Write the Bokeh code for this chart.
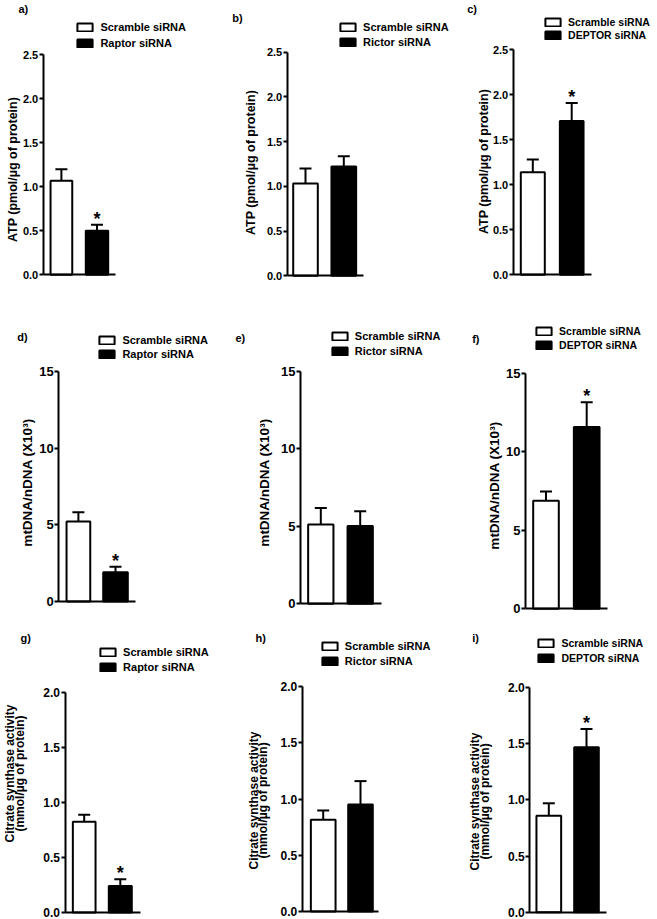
from bokeh.plotting import figure
from bokeh.layouts import column, row
from bokeh.models import (Range1d, FixedTicker, NumeralTickFormatter, Legend, LinearAxis,
                          LegendItem, Whisker, TeeHead, ColumnDataSource)
from bokeh.core.properties import value
from bokeh.embed import file_html
from bokeh.resources import INLINE

FONT = "Liberation Sans"

# ---------------- data ----------------
control = "Scramble siRNA"
treatments = ["Raptor siRNA", "Rictor siRNA", "DEPTOR siRNA"]
panel_letters = ["a)", "b)", "c)", "d)", "e)", "f)", "g)", "h)", "i)"]

# ATP (pmol/ug of protein): [Scramble, treatment]
atp_raptor = [1.07, 0.50]
atp_raptor_sem = [0.13, 0.07]
atp_rictor = [1.03, 1.22]
atp_rictor_sem = [0.17, 0.115]
atp_deptor = [1.14, 1.71]
atp_deptor_sem = [0.14, 0.20]

# mtDNA/nDNA (x10^3)
mt_raptor = [5.22, 1.90]
mt_raptor_sem = [0.60, 0.37]
mt_rictor = [5.11, 5.02]
mt_rictor_sem = [1.07, 0.95]
mt_deptor = [6.88, 11.57]
mt_deptor_sem = [0.59, 1.57]

# Citrate synthase activity (mmol/ug of protein)
cs_raptor = [0.824, 0.242]
cs_raptor_sem = [0.064, 0.061]
cs_rictor = [0.815, 0.951]
cs_rictor_sem = [0.083, 0.208]
cs_deptor = [0.859, 1.467]
cs_deptor_sem = [0.11, 0.163]

# significance of treatment vs scramble (ATP, mtDNA, CS)
raptor_sig = [True, True, True]
rictor_sig = [False, False, False]
deptor_sig = [True, True, True]

atp_ticks = [0.0, 0.5, 1.0, 1.5, 2.0, 2.5]
mt_ticks = [0, 5, 10, 15]
cs_ticks = [0.0, 0.5, 1.0, 1.5, 2.0]

atp_label = ["ATP (pmol/\u00b5g of protein)"]
mt_label = ["mtDNA/nDNA (X10\u00b3)"]
cs_label = ["Citrate synthase activity", "(mmol/\u00b5g of protein)"]

# ---------------- layout geometry (page pixels) ----------------
COLS = [(0, 225), (225, 230), (455, 202)]
ROWS = [(0, 290), (290, 330), (620, 299)]

# yl: (centre x, centre y) of each y-title line; lab: (letter left x, letter centre y)
GEOM = {
    "a": dict(ax=42.7, base=274.3, k=88.0, c=(60.9, 96.5), w=(23.7, 24.4), xend=115,
              leg=(77.3, 21.3, 16.0, 11), lab=(18, 8), yl=[(12.8, 169)]),
    "b": dict(ax=286.7, base=275.3, k=89.5, c=(305, 343.3), w=(26.6, 26.7), xend=363,
              leg=(340, 21.3, 15.7, 11), lab=(231.7, 17.3), yl=[(250.8, 162.5)]),
    "c": dict(ax=512.7, base=274.3, k=90.0, c=(532.3, 571.2), w=(26, 25.7), xend=590.7,
              leg=(545, 16.3, 13.7, 10.5), lab=(466.7, 8.3), yl=[(484.2, 160.7)]),
    "d": dict(ax=58.3, base=601, k=15.33, c=(77.9, 115), w=(25.7, 26.6), xend=135,
              leg=(99.3, 334.3, 14.4, 11), lab=(16.7, 335.8), yl=[(28, 482.5)]),
    "e": dict(ax=300, base=603.3, k=15.5, c=(320.3, 359.7), w=(27.3, 27.3), xend=380.7,
              leg=(331.7, 330.7, 15.0, 11), lab=(235, 337), yl=[(265, 481.7)]),
    "f": dict(ax=525, base=608.3, k=15.71, c=(545.5, 586.2), w=(27.6, 27.7), xend=606.7,
              leg=(536, 325, 14.3, 10.5), lab=(471.7, 337.5), yl=[(495, 485)]),
    "g": dict(ax=64.5, base=912.0, k=110.0, c=(83.7, 119.8), w=(24.7, 25), xend=140,
              leg=(100, 646.7, 15.0, 11), lab=(20, 637.3), yl=[(10.8, 773), (20.3, 773)]),
    "h": dict(ax=301.7, base=911, k=112.5, c=(322.7, 360), w=(26.7, 26.6), xend=378,
              leg=(321.7, 640.7, 15.3, 11), lab=(255, 636.7), yl=[(254.2, 800), (263.5, 800)]),
    "i": dict(ax=529.3, base=911.8, k=112.5, c=(548.3, 586), w=(26.7, 26.6), xend=606,
              leg=(538.3, 637.3, 15.0, 10.5), lab=(471.7, 636.7), yl=[(475.8, 800.5), (485.5, 800.5)]),
}
# per row: tick font px, y-title font px
ROW_STYLE = [dict(tick=11, ylab=12.5), dict(tick=13, ylab=13.5), dict(tick=12, ylab=12)]
LETTER_EM = {"a)": 0.889, "b)": 0.944, "c)": 0.889, "d)": 0.944, "e)": 0.889,
             "f)": 0.666, "g)": 0.944, "h)": 0.944, "i)": 0.611}
ROT_HALF_EM = 0.50  # anchor-to-centre distance of a rotated label (em)
ITEM_H = 12.3       # legend row height
TICK_OUT = 4
TICK_STANDOFF = 1
LETTER_PX = 11


def text_axis(p, loc, tick, text, size, orient):
    """A left axis at a fixed x location whose only visible part is one label."""
    a = LinearAxis(y_range_name="laby", fixed_location=loc,
                   ticker=FixedTicker(ticks=[tick]),
                   major_label_overrides={tick: text},
                   axis_line_color=None, major_tick_line_color=None,
                   minor_tick_line_color=None, major_tick_out=0, major_tick_in=0,
                   major_label_standoff=0, major_label_orientation=orient,
                   major_label_text_font=FONT, major_label_text_font_style="bold",
                   major_label_text_font_size=f"{size}px", major_label_text_color="black")
    p.add_layout(a, "left")


def make_panel(key, col, rowi, letter, means, sems, treat, sig, ticks, fmt, ylabel):
    col_left, W = COLS[col]
    row_top, H = ROWS[rowi]
    bottom = row_top + H
    g = GEOM[key]
    st = ROW_STYLE[rowi]
    ax, base, k = g["ax"], g["base"], g["k"]
    c1, c2 = g["c"]
    s = c2 - c1

    def xd(px):            # page x -> data x
        return 1 + (px - c1) / s

    p = figure(width=W, height=H,
               x_range=Range1d(xd(col_left), xd(col_left + W)),
               y_range=Range1d(-(bottom - base) / k, (base - row_top) / k),
               output_backend="svg", toolbar_location=None,
               min_border_left=0, min_border_right=0, min_border_top=0, min_border_bottom=0)
    p.outline_line_color = None
    p.xgrid.visible = False
    p.ygrid.visible = False
    p.background_fill_color = "white"
    p.border_fill_color = "white"
    p.extra_y_ranges = {"laby": Range1d(0, H)}
    yax = p.left[0]
    xax = p.below[0]

    upper = [m + e for m, e in zip(means, sems)]
    src = ColumnDataSource(dict(x=[1, 2], top=means, upper=upper,
                                fill=["white", "black"],
                                w=[(g["w"][0] - 2) / s, (g["w"][1] - 2) / s]))
    r = p.vbar(x="x", top="top", bottom=0, width="w", source=src, fill_color="fill",
               line_color="black", line_width=2)
    p.add_layout(Whisker(source=src, base="x", lower="top", upper="upper", dimension="height",
                         line_color="black", line_width=2,
                         upper_head=TeeHead(size=12, line_width=2, line_color="black"),
                         lower_head=None))
    if sig:
        p.text(x=[2], y=[upper[1]], text=["*"], text_font=value(FONT), text_font_style="bold",
               text_font_size="18px", text_align="center", text_baseline="alphabetic",
               text_color="black", y_offset=-6)

    # main y axis, drawn at the axis position inside the (full-cell) frame
    yax.fixed_location = xd(ax)
    yax.ticker = FixedTicker(ticks=ticks)
    yax.formatter = NumeralTickFormatter(format=fmt)
    yax.bounds = (0, ticks[-1])
    yax.axis_line_width = 2
    yax.axis_line_color = "black"
    yax.major_tick_line_width = 2
    yax.major_tick_line_color = "black"
    yax.major_tick_out = TICK_OUT
    yax.major_tick_in = 0
    yax.minor_tick_line_color = None
    yax.major_label_standoff = TICK_STANDOFF
    yax.major_label_text_font = FONT
    yax.major_label_text_font_style = "bold"
    yax.major_label_text_font_size = f"{st['tick']}px"
    yax.major_label_text_color = "black"

    # x axis: baseline only
    xax.fixed_location = 0
    xax.ticker = FixedTicker(ticks=[])
    xax.bounds = (xd(ax), xd(g["xend"]))
    xax.axis_line_width = 2
    xax.axis_line_color = "black"
    xax.major_tick_line_color = None
    xax.minor_tick_line_color = None
    xax.major_tick_out = 0
    xax.major_label_standoff = 0
    xax.major_label_text_font_size = "0px"

    # y-title lines
    fs = st["ylab"]
    for (cx, cy), txt in zip(g["yl"], ylabel):
        text_axis(p, xd(cx + ROT_HALF_EM * fs), int(round(bottom - cy)), txt, fs, "vertical")

    # panel letter
    lx, ly = g["lab"]
    text_axis(p, xd(lx + LETTER_EM[letter] * LETTER_PX), int(round(bottom - ly)), letter,
              LETTER_PX, "horizontal")

    # legend
    bl, bt, pitch, lfs = g["leg"]
    gw, gh = 19, 10
    spacing = pitch - ITEM_H
    top = bt - gh * 0.1
    leg_h = 2 * ITEM_H + spacing
    legend = Legend(items=[LegendItem(label=control, renderers=[r], index=0),
                           LegendItem(label=treat, renderers=[r], index=1)],
                    location=(bl - gw * 0.1 - col_left, bottom - (top + leg_h)),
                    orientation="vertical", glyph_width=gw, glyph_height=gh,
                    label_height=gh, label_standoff=6, spacing=int(round(spacing)),
                    padding=0, margin=0, border_line_color=None, background_fill_alpha=0,
                    label_text_font=FONT, label_text_font_style="bold",
                    label_text_font_size=f"{lfs}px", label_text_color="black")
    p.add_layout(legend)
    return p


pa = make_panel("a", 0, 0, panel_letters[0], atp_raptor, atp_raptor_sem, treatments[0], raptor_sig[0], atp_ticks, "0.0", atp_label)
pb = make_panel("b", 1, 0, panel_letters[1], atp_rictor, atp_rictor_sem, treatments[1], rictor_sig[0], atp_ticks, "0.0", atp_label)
pc = make_panel("c", 2, 0, panel_letters[2], atp_deptor, atp_deptor_sem, treatments[2], deptor_sig[0], atp_ticks, "0.0", atp_label)
pd = make_panel("d", 0, 1, panel_letters[3], mt_raptor, mt_raptor_sem, treatments[0], raptor_sig[1], mt_ticks, "0", mt_label)
pe = make_panel("e", 1, 1, panel_letters[4], mt_rictor, mt_rictor_sem, treatments[1], rictor_sig[1], mt_ticks, "0", mt_label)
pf = make_panel("f", 2, 1, panel_letters[5], mt_deptor, mt_deptor_sem, treatments[2], deptor_sig[1], mt_ticks, "0", mt_label)
pg = make_panel("g", 0, 2, panel_letters[6], cs_raptor, cs_raptor_sem, treatments[0], raptor_sig[2], cs_ticks, "0.0", cs_label)
ph = make_panel("h", 1, 2, panel_letters[7], cs_rictor, cs_rictor_sem, treatments[1], rictor_sig[2], cs_ticks, "0.0", cs_label)
pi = make_panel("i", 2, 2, panel_letters[8], cs_deptor, cs_deptor_sem, treatments[2], deptor_sig[2], cs_ticks, "0.0", cs_label)

layout = column(row(pa, pb, pc), row(pd, pe, pf), row(pg, ph, pi))

with open("out.html", "w") as f:
    f.write(file_html(layout, INLINE, title="mTOR siRNA panels"))
